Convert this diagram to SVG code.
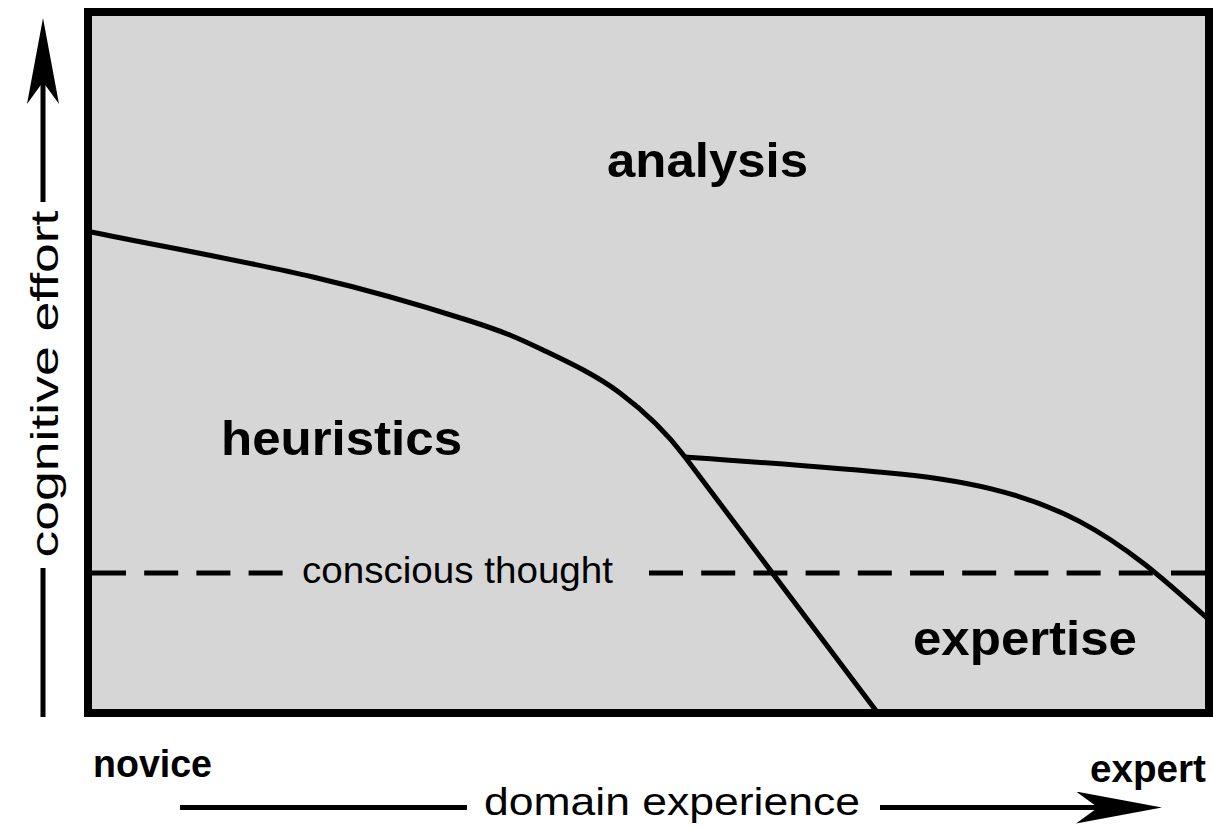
<svg xmlns="http://www.w3.org/2000/svg" width="1213" height="828" viewBox="0 0 1213 828">
  <style>
    .lbl { font-family: "Liberation Sans", Arial, sans-serif; fill: #000; }
    .big { font-size: 49px; font-weight: bold; }
    .reg { font-size: 37px; }
    .end { font-size: 38px; font-weight: bold; }
    .curve { fill: none; stroke: #000; stroke-width: 5; stroke-linejoin: round; }
    .dash { stroke: #000; stroke-width: 5; stroke-dasharray: 34 18.2; }
    .axis { stroke: #000; stroke-width: 5; fill: none; }
  </style>
  <defs>
    <marker id="arrow" markerUnits="userSpaceOnUse" viewBox="0 0 86 32" refX="22" refY="16" markerWidth="86" markerHeight="32" orient="auto">
      <path d="M0,0 L86,16 L0,32 L22,16 Z" fill="#000"/>
    </marker>
  </defs>
  <rect width="1213" height="828" fill="#fff"/>

  <g id="plot">
    <rect x="88" y="12" width="1121" height="701" fill="#d6d6d6"/>
  </g>

  <g id="connectors">
    <path class="curve" d="M91,232 C165,247 250.3,262.3 313,277 C375.7,291.7 428.7,307.8 467,320 C505.3,332.2 517.5,337.8 543,350 C568.5,362.2 596.3,375.2 620,393 C643.7,410.8 667,433 685,457 L877,712"/>
    <path class="curve" d="M685,457 C757,462 830,467 900,474 C1060,490 1117,536.6 1208,619"/>
    <line class="dash" x1="92" y1="573" x2="288" y2="573"/>
    <line class="dash" x1="649" y1="573" x2="1206" y2="573"/>
  </g>

  <g id="frame">
    <rect x="88" y="12" width="1121" height="701" fill="none" stroke="#000" stroke-width="8"/>
  </g>

  <g id="analysis"><text class="lbl big" x="607" y="177" textLength="201" lengthAdjust="spacingAndGlyphs">analysis</text></g>
  <g id="heuristics"><text class="lbl big" x="221" y="455" textLength="241" lengthAdjust="spacingAndGlyphs">heuristics</text></g>
  <g id="expertise"><text class="lbl big" x="913" y="655" textLength="224" lengthAdjust="spacingAndGlyphs">expertise</text></g>
  <g id="conscious-thought"><text class="lbl reg" x="302" y="583" textLength="311" lengthAdjust="spacingAndGlyphs">conscious thought</text></g>

  <g id="y-axis">
    <line class="axis" x1="43" y1="202" x2="43" y2="82" marker-end="url(#arrow)"/>
    <line class="axis" x1="43" y1="568" x2="43" y2="717"/>
    <text class="lbl" font-size="39" transform="translate(58,384) rotate(-90)" text-anchor="middle" textLength="347" lengthAdjust="spacingAndGlyphs">cognitive effort</text>
  </g>

  <g id="x-axis">
    <line class="axis" x1="180" y1="807.5" x2="467" y2="807.5"/>
    <line class="axis" x1="880" y1="807.5" x2="1098" y2="807.5" marker-end="url(#arrow)"/>
    <text class="lbl" font-size="39" x="484" y="815" textLength="376" lengthAdjust="spacingAndGlyphs">domain experience</text>
    <text class="lbl end" x="93" y="777" textLength="119" lengthAdjust="spacingAndGlyphs">novice</text>
    <text class="lbl end" x="1090" y="782" textLength="116" lengthAdjust="spacingAndGlyphs">expert</text>
  </g>
</svg>
